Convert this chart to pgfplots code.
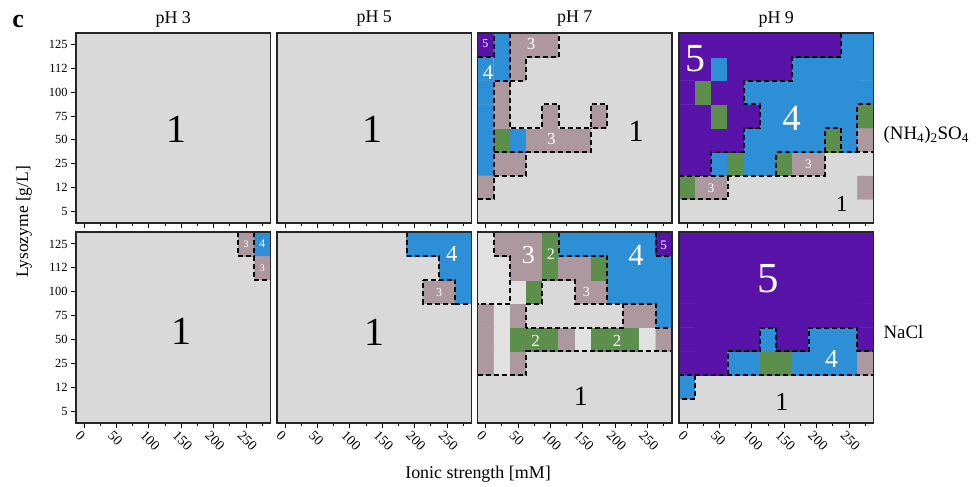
\documentclass[border=0pt]{standalone}
\usepackage{fontspec}
\setmainfont{Liberation Serif}
\usepackage{pgfplots}
\pgfplotsset{compat=1.18}
\definecolor{cGray}{RGB}{217,217,217}
\pgfplotsset{
 colormap={phases}{rgb255=(217,217,217) rgb255=(92,143,76) rgb255=(174,152,159) rgb255=(45,143,213) rgb255=(89,19,168) rgb255=(225,225,225)},
 panel/.style={scale only axis, width=194.5bp, height=190bp, anchor=north west,
   xmin=-12.5, xmax=287.5, ymin=-0.5, ymax=7.5, axis on top,
   xtick={0,50,...,250}, minor xtick={25,75,...,275}, ytick=\empty,
   xtick pos=left, ytick pos=left, tick align=outside,
   major tick length=5bp, minor tick length=3bp,
   every tick/.style={black, line width=1bp},
   axis line style={black!85, line width=1.1bp},
   colormap name=phases,
   axis background/.style={fill=cGray},
   tick label style={font=\fontsize{12.5}{13}\selectfont, text=black},
   /pgf/number format/assume math mode=true,
   xticklabels={},
 },
 leftcol/.style={ytick={0,...,7}, yticklabels={5,12,25,50,75,100,112,125}},
 botrow/.style={height=191bp, xticklabels={0,50,100,150,200,250}, xticklabel style={font=\fontsize{14}{14}\selectfont, rotate=-45, anchor=north west, xshift=-4bp, yshift=0bp}},
 phcells/.style={matrix plot*, mesh/cols=12, point meta=explicit, colormap access=direct},
 dsh/.style={black, line width=2bp, dash pattern=on 5bp off 3bp},
}
\newcommand{\lab}[5]{\node[font=\fontsize{#1}{#1}\selectfont, text=#2, inner sep=0pt] at (axis cs:#3,#4) {#5};}
\begin{document}
\begin{tikzpicture}
\path[use as bounding box] (0,0) rectangle (977bp,-487bp);
% ---------------- pH 3, (NH4)2SO4
\begin{axis}[panel, leftcol, at={(76bp,-33bp)}]
\addplot[phcells] coordinates {
(0,0)[0] (25,0)[0] (50,0)[0] (75,0)[0] (100,0)[0] (125,0)[0] (150,0)[0] (175,0)[0] (200,0)[0] (225,0)[0] (250,0)[0] (275,0)[0]
(0,1)[0] (25,1)[0] (50,1)[0] (75,1)[0] (100,1)[0] (125,1)[0] (150,1)[0] (175,1)[0] (200,1)[0] (225,1)[0] (250,1)[0] (275,1)[0]
(0,2)[0] (25,2)[0] (50,2)[0] (75,2)[0] (100,2)[0] (125,2)[0] (150,2)[0] (175,2)[0] (200,2)[0] (225,2)[0] (250,2)[0] (275,2)[0]
(0,3)[0] (25,3)[0] (50,3)[0] (75,3)[0] (100,3)[0] (125,3)[0] (150,3)[0] (175,3)[0] (200,3)[0] (225,3)[0] (250,3)[0] (275,3)[0]
(0,4)[0] (25,4)[0] (50,4)[0] (75,4)[0] (100,4)[0] (125,4)[0] (150,4)[0] (175,4)[0] (200,4)[0] (225,4)[0] (250,4)[0] (275,4)[0]
(0,5)[0] (25,5)[0] (50,5)[0] (75,5)[0] (100,5)[0] (125,5)[0] (150,5)[0] (175,5)[0] (200,5)[0] (225,5)[0] (250,5)[0] (275,5)[0]
(0,6)[0] (25,6)[0] (50,6)[0] (75,6)[0] (100,6)[0] (125,6)[0] (150,6)[0] (175,6)[0] (200,6)[0] (225,6)[0] (250,6)[0] (275,6)[0]
(0,7)[0] (25,7)[0] (50,7)[0] (75,7)[0] (100,7)[0] (125,7)[0] (150,7)[0] (175,7)[0] (200,7)[0] (225,7)[0] (250,7)[0] (275,7)[0]
};
\lab{40}{black}{143}{3.45}{1}
\end{axis}
% ---------------- pH 5, (NH4)2SO4
\begin{axis}[panel, at={(277bp,-33bp)}]
\addplot[phcells] coordinates {
(0,0)[0] (25,0)[0] (50,0)[0] (75,0)[0] (100,0)[0] (125,0)[0] (150,0)[0] (175,0)[0] (200,0)[0] (225,0)[0] (250,0)[0] (275,0)[0]
(0,1)[0] (25,1)[0] (50,1)[0] (75,1)[0] (100,1)[0] (125,1)[0] (150,1)[0] (175,1)[0] (200,1)[0] (225,1)[0] (250,1)[0] (275,1)[0]
(0,2)[0] (25,2)[0] (50,2)[0] (75,2)[0] (100,2)[0] (125,2)[0] (150,2)[0] (175,2)[0] (200,2)[0] (225,2)[0] (250,2)[0] (275,2)[0]
(0,3)[0] (25,3)[0] (50,3)[0] (75,3)[0] (100,3)[0] (125,3)[0] (150,3)[0] (175,3)[0] (200,3)[0] (225,3)[0] (250,3)[0] (275,3)[0]
(0,4)[0] (25,4)[0] (50,4)[0] (75,4)[0] (100,4)[0] (125,4)[0] (150,4)[0] (175,4)[0] (200,4)[0] (225,4)[0] (250,4)[0] (275,4)[0]
(0,5)[0] (25,5)[0] (50,5)[0] (75,5)[0] (100,5)[0] (125,5)[0] (150,5)[0] (175,5)[0] (200,5)[0] (225,5)[0] (250,5)[0] (275,5)[0]
(0,6)[0] (25,6)[0] (50,6)[0] (75,6)[0] (100,6)[0] (125,6)[0] (150,6)[0] (175,6)[0] (200,6)[0] (225,6)[0] (250,6)[0] (275,6)[0]
(0,7)[0] (25,7)[0] (50,7)[0] (75,7)[0] (100,7)[0] (125,7)[0] (150,7)[0] (175,7)[0] (200,7)[0] (225,7)[0] (250,7)[0] (275,7)[0]
};
\lab{40}{black}{135.5}{3.45}{1}
\end{axis}
% ---------------- pH 7, (NH4)2SO4
\begin{axis}[panel, at={(477.5bp,-33bp)}]
\addplot[phcells] coordinates {
(0,0)[0] (25,0)[0] (50,0)[0] (75,0)[0] (100,0)[0] (125,0)[0] (150,0)[0] (175,0)[0] (200,0)[0] (225,0)[0] (250,0)[0] (275,0)[0]
(0,1)[2] (25,1)[0] (50,1)[0] (75,1)[0] (100,1)[0] (125,1)[0] (150,1)[0] (175,1)[0] (200,1)[0] (225,1)[0] (250,1)[0] (275,1)[0]
(0,2)[3] (25,2)[2] (50,2)[2] (75,2)[0] (100,2)[0] (125,2)[0] (150,2)[0] (175,2)[0] (200,2)[0] (225,2)[0] (250,2)[0] (275,2)[0]
(0,3)[3] (25,3)[1] (50,3)[3] (75,3)[2] (100,3)[2] (125,3)[2] (150,3)[2] (175,3)[0] (200,3)[0] (225,3)[0] (250,3)[0] (275,3)[0]
(0,4)[3] (25,4)[2] (50,4)[0] (75,4)[0] (100,4)[2] (125,4)[0] (150,4)[0] (175,4)[2] (200,4)[0] (225,4)[0] (250,4)[0] (275,4)[0]
(0,5)[3] (25,5)[2] (50,5)[0] (75,5)[0] (100,5)[0] (125,5)[0] (150,5)[0] (175,5)[0] (200,5)[0] (225,5)[0] (250,5)[0] (275,5)[0]
(0,6)[3] (25,6)[3] (50,6)[2] (75,6)[0] (100,6)[0] (125,6)[0] (150,6)[0] (175,6)[0] (200,6)[0] (225,6)[0] (250,6)[0] (275,6)[0]
(0,7)[4] (25,7)[3] (50,7)[2] (75,7)[2] (100,7)[2] (125,7)[0] (150,7)[0] (175,7)[0] (200,7)[0] (225,7)[0] (250,7)[0] (275,7)[0]
};
\addplot[dsh] coordinates {(-12.5,6.5) (12.5,6.5) (12.5,7.5)};
\addplot[dsh] coordinates {(37.5,7.5) (37.5,5.5) (62.5,5.5) (62.5,6.5) (112.5,6.5) (112.5,7.5)};
\addplot[dsh] coordinates {(12.5,0.5) (12.5,5.5) (37.5,5.5) (37.5,3.5) (87.5,3.5) (87.5,4.5) (112.5,4.5) (112.5,3.5) (162.5,3.5) (162.5,4.5) (187.5,4.5) (187.5,3.5) (162.5,3.5)};
\addplot[dsh] coordinates {(-12.5,0.5) (12.5,0.5)};
\addplot[dsh] coordinates {(12.5,2.5) (162.5,2.5) (162.5,3.5)};
\addplot[dsh] coordinates {(12.5,1.5) (62.5,1.5) (62.5,2.5)};
\lab{12}{white}{-0.5}{7.05}{5}
\lab{21}{white}{4}{5.85}{4}
\lab{17}{white}{70}{7.02}{3}
\lab{17}{white}{101.5}{3.05}{3}
\lab{31}{black}{232}{3.35}{1}
\end{axis}
% ---------------- pH 9, (NH4)2SO4
\begin{axis}[panel, at={(679bp,-33bp)}]
\addplot[phcells] coordinates {
(0,0)[0] (25,0)[0] (50,0)[0] (75,0)[0] (100,0)[0] (125,0)[0] (150,0)[0] (175,0)[0] (200,0)[0] (225,0)[0] (250,0)[0] (275,0)[0]
(0,1)[1] (25,1)[2] (50,1)[2] (75,1)[0] (100,1)[0] (125,1)[0] (150,1)[0] (175,1)[0] (200,1)[0] (225,1)[0] (250,1)[0] (275,1)[2]
(0,2)[4] (25,2)[4] (50,2)[3] (75,2)[1] (100,2)[3] (125,2)[3] (150,2)[1] (175,2)[2] (200,2)[2] (225,2)[0] (250,2)[0] (275,2)[0]
(0,3)[4] (25,3)[4] (50,3)[4] (75,3)[4] (100,3)[3] (125,3)[3] (150,3)[3] (175,3)[3] (200,3)[3] (225,3)[1] (250,3)[3] (275,3)[2]
(0,4)[4] (25,4)[4] (50,4)[1] (75,4)[4] (100,4)[4] (125,4)[3] (150,4)[3] (175,4)[3] (200,4)[3] (225,4)[3] (250,4)[3] (275,4)[1]
(0,5)[4] (25,5)[1] (50,5)[4] (75,5)[4] (100,5)[3] (125,5)[3] (150,5)[3] (175,5)[3] (200,5)[3] (225,5)[3] (250,5)[3] (275,5)[3]
(0,6)[4] (25,6)[4] (50,6)[3] (75,6)[4] (100,6)[4] (125,6)[4] (150,6)[4] (175,6)[3] (200,6)[3] (225,6)[3] (250,6)[3] (275,6)[3]
(0,7)[4] (25,7)[4] (50,7)[4] (75,7)[4] (100,7)[4] (125,7)[4] (150,7)[4] (175,7)[4] (200,7)[4] (225,7)[4] (250,7)[3] (275,7)[3]
};
\addplot[dsh] coordinates {(237.5,7.5) (237.5,6.5) (162.5,6.5) (162.5,5.5) (87.5,5.5) (87.5,4.5) (112.5,4.5) (112.5,3.5) (87.5,3.5) (87.5,2.5) (37.5,2.5) (37.5,1.5)};
\addplot[dsh] coordinates {(-12.5,1.5) (212.5,1.5) (212.5,2.5) (287.5,2.5)};
\addplot[dsh] coordinates {(62.5,1.5) (62.5,0.5) (-12.5,0.5)};
\addplot[dsh] coordinates {(137.5,1.5) (137.5,2.5) (212.5,2.5)};
\addplot[dsh] coordinates {(212.5,2.5) (212.5,3.5) (237.5,3.5) (237.5,2.5)};
\addplot[dsh] coordinates {(262.5,2.5) (262.5,4.5) (287.5,4.5)};
\lab{40}{white}{13}{6.4}{5}
\lab{37}{white}{161}{3.9}{4}
\lab{13}{white}{187}{1.96}{3}
\lab{13}{white}{37}{0.96}{3}
\lab{23}{black}{238.5}{0.3}{1}
\end{axis}
% ---------------- pH 3, NaCl
\begin{axis}[panel, leftcol, botrow, at={(76bp,-232bp)}]
\addplot[phcells] coordinates {
(0,0)[0] (25,0)[0] (50,0)[0] (75,0)[0] (100,0)[0] (125,0)[0] (150,0)[0] (175,0)[0] (200,0)[0] (225,0)[0] (250,0)[0] (275,0)[0]
(0,1)[0] (25,1)[0] (50,1)[0] (75,1)[0] (100,1)[0] (125,1)[0] (150,1)[0] (175,1)[0] (200,1)[0] (225,1)[0] (250,1)[0] (275,1)[0]
(0,2)[0] (25,2)[0] (50,2)[0] (75,2)[0] (100,2)[0] (125,2)[0] (150,2)[0] (175,2)[0] (200,2)[0] (225,2)[0] (250,2)[0] (275,2)[0]
(0,3)[0] (25,3)[0] (50,3)[0] (75,3)[0] (100,3)[0] (125,3)[0] (150,3)[0] (175,3)[0] (200,3)[0] (225,3)[0] (250,3)[0] (275,3)[0]
(0,4)[0] (25,4)[0] (50,4)[0] (75,4)[0] (100,4)[0] (125,4)[0] (150,4)[0] (175,4)[0] (200,4)[0] (225,4)[0] (250,4)[0] (275,4)[0]
(0,5)[0] (25,5)[0] (50,5)[0] (75,5)[0] (100,5)[0] (125,5)[0] (150,5)[0] (175,5)[0] (200,5)[0] (225,5)[0] (250,5)[0] (275,5)[0]
(0,6)[0] (25,6)[0] (50,6)[0] (75,6)[0] (100,6)[0] (125,6)[0] (150,6)[0] (175,6)[0] (200,6)[0] (225,6)[0] (250,6)[0] (275,6)[2]
(0,7)[0] (25,7)[0] (50,7)[0] (75,7)[0] (100,7)[0] (125,7)[0] (150,7)[0] (175,7)[0] (200,7)[0] (225,7)[0] (250,7)[2] (275,7)[3]
};
\addplot[dsh] coordinates {(237.5,7.5) (237.5,6.5) (262.5,6.5) (262.5,5.5) (287.5,5.5)};
\addplot[dsh] coordinates {(262.5,7.5) (262.5,6.5)};
\lab{10}{white}{250}{7}{3}
\lab{12}{white}{275}{7}{4}
\lab{10}{white}{275}{6}{3}
\lab{40}{black}{150}{3.33}{1}
\end{axis}
% ---------------- pH 5, NaCl
\begin{axis}[panel, botrow, at={(277bp,-232bp)}]
\addplot[phcells] coordinates {
(0,0)[0] (25,0)[0] (50,0)[0] (75,0)[0] (100,0)[0] (125,0)[0] (150,0)[0] (175,0)[0] (200,0)[0] (225,0)[0] (250,0)[0] (275,0)[0]
(0,1)[0] (25,1)[0] (50,1)[0] (75,1)[0] (100,1)[0] (125,1)[0] (150,1)[0] (175,1)[0] (200,1)[0] (225,1)[0] (250,1)[0] (275,1)[0]
(0,2)[0] (25,2)[0] (50,2)[0] (75,2)[0] (100,2)[0] (125,2)[0] (150,2)[0] (175,2)[0] (200,2)[0] (225,2)[0] (250,2)[0] (275,2)[0]
(0,3)[0] (25,3)[0] (50,3)[0] (75,3)[0] (100,3)[0] (125,3)[0] (150,3)[0] (175,3)[0] (200,3)[0] (225,3)[0] (250,3)[0] (275,3)[0]
(0,4)[0] (25,4)[0] (50,4)[0] (75,4)[0] (100,4)[0] (125,4)[0] (150,4)[0] (175,4)[0] (200,4)[0] (225,4)[0] (250,4)[0] (275,4)[0]
(0,5)[0] (25,5)[0] (50,5)[0] (75,5)[0] (100,5)[0] (125,5)[0] (150,5)[0] (175,5)[0] (200,5)[0] (225,5)[2] (250,5)[2] (275,5)[3]
(0,6)[0] (25,6)[0] (50,6)[0] (75,6)[0] (100,6)[0] (125,6)[0] (150,6)[0] (175,6)[0] (200,6)[0] (225,6)[0] (250,6)[3] (275,6)[3]
(0,7)[0] (25,7)[0] (50,7)[0] (75,7)[0] (100,7)[0] (125,7)[0] (150,7)[0] (175,7)[0] (200,7)[3] (225,7)[3] (250,7)[3] (275,7)[3]
};
\addplot[dsh] coordinates {(187.5,7.5) (187.5,6.5) (237.5,6.5) (237.5,5.5)};
\addplot[dsh] coordinates {(212.5,5.5) (262.5,5.5) (262.5,4.5) (212.5,4.5) (212.5,5.5)};
\addplot[dsh] coordinates {(262.5,4.5) (287.5,4.5)};
\lab{23}{white}{257}{6.59}{4}
\lab{12}{white}{237.5}{4.97}{3}
\lab{40}{black}{138.5}{3.29}{1}
\end{axis}
% ---------------- pH 7, NaCl
\begin{axis}[panel, botrow, at={(477.5bp,-232bp)}]
\addplot[phcells] coordinates {
(0,0)[0] (25,0)[0] (50,0)[0] (75,0)[0] (100,0)[0] (125,0)[0] (150,0)[0] (175,0)[0] (200,0)[0] (225,0)[0] (250,0)[0] (275,0)[0]
(0,1)[0] (25,1)[0] (50,1)[0] (75,1)[0] (100,1)[0] (125,1)[0] (150,1)[0] (175,1)[0] (200,1)[0] (225,1)[0] (250,1)[0] (275,1)[0]
(0,2)[2] (25,2)[5] (50,2)[2] (75,2)[0] (100,2)[0] (125,2)[0] (150,2)[0] (175,2)[0] (200,2)[0] (225,2)[0] (250,2)[0] (275,2)[0]
(0,3)[2] (25,3)[5] (50,3)[1] (75,3)[1] (100,3)[1] (125,3)[2] (150,3)[5] (175,3)[1] (200,3)[1] (225,3)[1] (250,3)[5] (275,3)[2]
(0,4)[2] (25,4)[5] (50,4)[2] (75,4)[0] (100,4)[0] (125,4)[0] (150,4)[0] (175,4)[0] (200,4)[0] (225,4)[2] (250,4)[2] (275,4)[3]
(0,5)[5] (25,5)[5] (50,5)[5] (75,5)[1] (100,5)[0] (125,5)[0] (150,5)[2] (175,5)[2] (200,5)[3] (225,5)[3] (250,5)[3] (275,5)[3]
(0,6)[5] (25,6)[5] (50,6)[2] (75,6)[2] (100,6)[1] (125,6)[2] (150,6)[2] (175,6)[1] (200,6)[3] (225,6)[3] (250,6)[3] (275,6)[3]
(0,7)[5] (25,7)[2] (50,7)[2] (75,7)[2] (100,7)[1] (125,7)[3] (150,7)[3] (175,7)[3] (200,7)[3] (225,7)[3] (250,7)[3] (275,7)[4]
};
\addplot[dsh] coordinates {(12.5,7.5) (12.5,6.5) (37.5,6.5) (37.5,4.5) (-12.5,4.5)};
\addplot[dsh] coordinates {(62.5,3.5) (62.5,4.5) (87.5,4.5) (87.5,5.5) (137.5,5.5) (137.5,4.5) (212.5,4.5) (212.5,3.5) (62.5,3.5)};
\addplot[dsh] coordinates {(-12.5,1.5) (62.5,1.5) (62.5,2.5) (287.5,2.5)};
\addplot[dsh] coordinates {(112.5,7.5) (112.5,6.5) (187.5,6.5) (187.5,4.5) (262.5,4.5) (262.5,3.5) (287.5,3.5)};
\addplot[dsh] coordinates {(262.5,7.5) (262.5,6.5) (287.5,6.5)};
\lab{26}{white}{66}{6.52}{3}
\lab{16}{white}{100.5}{6.55}{2}
\lab{31}{white}{232}{6.52}{4}
\lab{13}{white}{274.5}{6.94}{5}
\lab{14}{white}{155.5}{4.99}{3}
\lab{17}{white}{77}{2.94}{2}
\lab{17}{white}{203}{2.94}{2}
\lab{28}{black}{147}{0.6}{1}
\end{axis}
% ---------------- pH 9, NaCl
\begin{axis}[panel, botrow, at={(679bp,-232bp)}]
\addplot[phcells] coordinates {
(0,0)[0] (25,0)[0] (50,0)[0] (75,0)[0] (100,0)[0] (125,0)[0] (150,0)[0] (175,0)[0] (200,0)[0] (225,0)[0] (250,0)[0] (275,0)[0]
(0,1)[3] (25,1)[0] (50,1)[0] (75,1)[0] (100,1)[0] (125,1)[0] (150,1)[0] (175,1)[0] (200,1)[0] (225,1)[0] (250,1)[0] (275,1)[0]
(0,2)[4] (25,2)[4] (50,2)[4] (75,2)[3] (100,2)[3] (125,2)[1] (150,2)[1] (175,2)[3] (200,2)[3] (225,2)[3] (250,2)[3] (275,2)[2]
(0,3)[4] (25,3)[4] (50,3)[4] (75,3)[4] (100,3)[4] (125,3)[3] (150,3)[4] (175,3)[4] (200,3)[3] (225,3)[3] (250,3)[3] (275,3)[4]
(0,4)[4] (25,4)[4] (50,4)[4] (75,4)[4] (100,4)[4] (125,4)[4] (150,4)[4] (175,4)[4] (200,4)[4] (225,4)[4] (250,4)[4] (275,4)[4]
(0,5)[4] (25,5)[4] (50,5)[4] (75,5)[4] (100,5)[4] (125,5)[4] (150,5)[4] (175,5)[4] (200,5)[4] (225,5)[4] (250,5)[4] (275,5)[4]
(0,6)[4] (25,6)[4] (50,6)[4] (75,6)[4] (100,6)[4] (125,6)[4] (150,6)[4] (175,6)[4] (200,6)[4] (225,6)[4] (250,6)[4] (275,6)[4]
(0,7)[4] (25,7)[4] (50,7)[4] (75,7)[4] (100,7)[4] (125,7)[4] (150,7)[4] (175,7)[4] (200,7)[4] (225,7)[4] (250,7)[4] (275,7)[4]
};
\addplot[dsh] coordinates {(-12.5,1.5) (287.5,1.5)};
\addplot[dsh] coordinates {(12.5,1.5) (12.5,0.5) (-12.5,0.5)};
\addplot[dsh] coordinates {(62.5,1.5) (62.5,2.5) (112.5,2.5) (112.5,3.5) (137.5,3.5) (137.5,2.5) (187.5,2.5) (187.5,3.5) (262.5,3.5) (262.5,2.5) (287.5,2.5)};
\lab{43}{white}{125}{5.54}{5}
\lab{26}{white}{223}{2.19}{4}
\lab{26}{black}{146}{0.37}{1}
\end{axis}
% ---------------- outer labels
\node[font=\fontsize{18}{18}\selectfont] at (173.25bp,-19bp) {pH 3};
\node[font=\fontsize{18}{18}\selectfont] at (374.25bp,-19bp) {pH 5};
\node[font=\fontsize{18}{18}\selectfont] at (574.75bp,-19bp) {pH 7};
\node[font=\fontsize{18}{18}\selectfont] at (776.25bp,-19bp) {pH 9};
\node[font=\fontsize{26}{26}\selectfont\bfseries] at (18bp,-22bp) {c};
\node[rotate=90, font=\fontsize{17.5}{18}\selectfont] at (24bp,-222bp) {Lysozyme [g/L]};
\node[font=\fontsize{18}{18}\selectfont] at (478bp,-474bp) {Ionic strength [mM]};
\node[anchor=west, font=\fontsize{19}{19}\selectfont] at (880bp,-135bp) {(NH\textsubscript{4})\textsubscript{2}SO\textsubscript{4}};
\node[anchor=west, font=\fontsize{19}{19}\selectfont] at (880bp,-332bp) {NaCl};
\end{tikzpicture}
\end{document}
